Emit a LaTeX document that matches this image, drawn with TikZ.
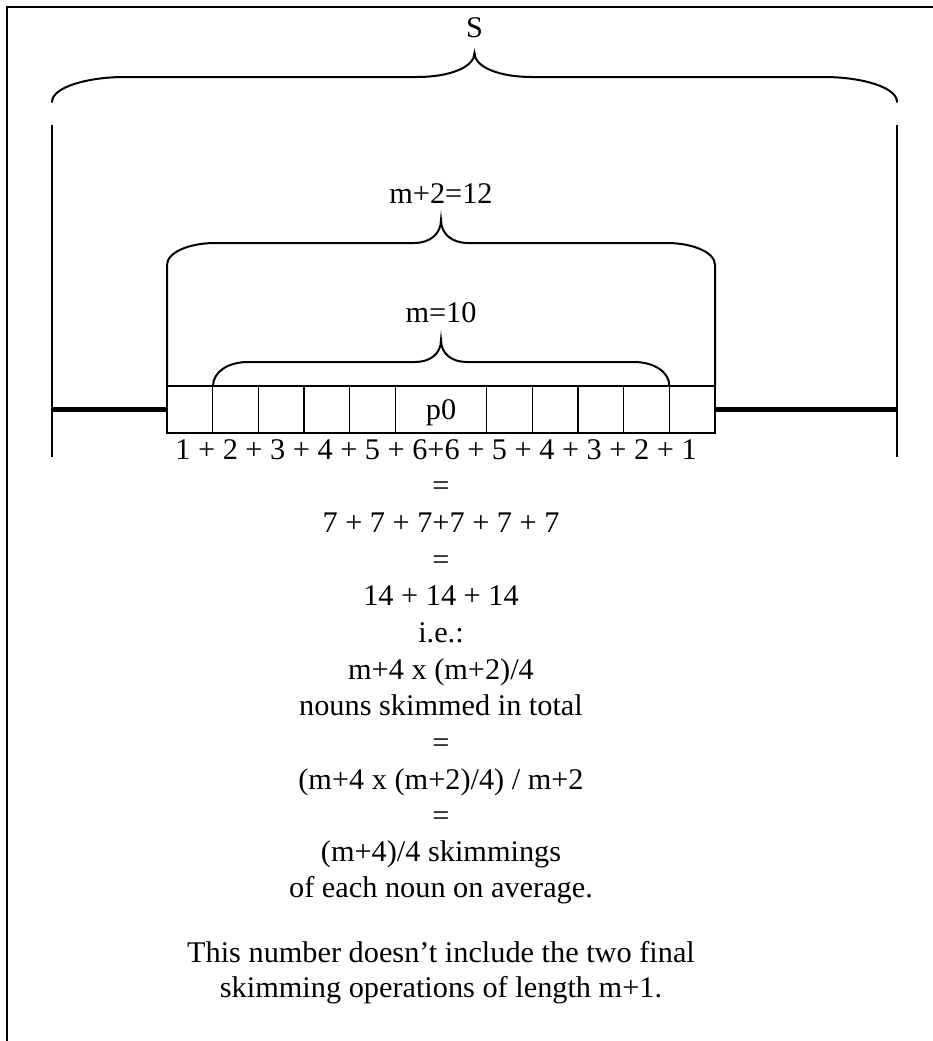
\documentclass[tikz,border=0pt]{standalone}
\usepackage{fontspec}
\setmainfont{Liberation Serif}
\usepackage{graphicx}
\newcommand\hsc[1]{\scalebox{1.01}[1]{#1}}
\begin{document}
\begin{tikzpicture}[x=1pt,y=-1pt,
  txt/.style={inner sep=0pt, anchor=base, font=\fontsize{30}{36}\selectfont},
  bracepath/.style={line width=2pt, line cap=round},
  cellline/.style={line width=1.5pt},
  guide/.style={line width=1.8pt},
  heavy/.style={line width=5pt},
  frameline/.style={line width=2.2pt}]
\useasboundingbox (0,0) rectangle (933,1041);
% frame
\draw[frameline] (7,1045) -- (7,7) -- (940,7);
% S brace
\draw[bracepath] (52,102) .. controls (52,87) and (88,77) .. (125,77) -- (417,77)
  .. controls (450,77) and (474.5,67) .. (474.5,53)
  .. controls (474.5,67) and (499,77) .. (532,77) -- (824,77)
  .. controls (861,77) and (897,87) .. (897,102);
\node[txt] (S) at (474.5,38) {\hsc{S}};
% outer vertical guides
\draw[guide] (52,125) -- (52,457);
\draw[guide] (897,125) -- (897,457);
% thick lines
\draw[heavy] (52,409.5) -- (167,409.5);
\draw[heavy] (715,409.5) -- (897,409.5);
% m+2 brace
\draw[bracepath] (167,386) -- (167,265) .. controls (167,252) and (190,243) .. (215,243) -- (414,243)
  .. controls (430,243) and (441,234) .. (441,220)
  .. controls (441,234) and (452,243) .. (468,243) -- (667,243)
  .. controls (692,243) and (715,252) .. (715,265) -- (715,386);
\node[txt] (m2) at (441,203) {\hsc{m+2=12}};
% m brace
\draw[bracepath] (213,386) .. controls (213,372) and (228,362) .. (248,362) -- (415,362)
  .. controls (430,362) and (441,354) .. (441,340)
  .. controls (441,354) and (452,362) .. (467,362) -- (634,362)
  .. controls (654,362) and (669.4,372) .. (669.4,386);
\node[txt] (m) at (441,322) {\hsc{m=10}};
% cells
\draw[cellline] (167,386) rectangle (715,433);
\foreach \i in {1,2,3,4,5,7,8,9,10,11}{
  \draw[cellline] ({167+\i*45.667},386) -- ({167+\i*45.667},433);
}
\node[txt] (p0) at (441,419) {\hsc{p0}};
% text rows
\node[txt] (r0) at (436,459) {\hsc{1 + 2 + 3 + 4 + 5 + 6+6 + 5 + 4 + 3 + 2 + 1}};
\node[txt] (r1) at (441,495) {\hsc{=}};
\node[txt] (r2) at (441,532) {\hsc{7 + 7 + 7+7 + 7 + 7}};
\node[txt] (r3) at (441,569) {\hsc{=}};
\node[txt] (r4) at (441,605) {\hsc{14 + 14 + 14}};
\node[txt] (r5) at (441,642) {\hsc{i.e.:}};
\node[txt] (r6) at (441,679) {\hsc{m+4 x (m+2)/4}};
\node[txt] (r7) at (441,715) {\hsc{nouns skimmed in total}};
\node[txt] (r8) at (441,752) {\hsc{=}};
\node[txt] (r9) at (441,789) {\hsc{(m+4 x (m+2)/4) / m+2}};
\node[txt] (r10) at (441,825) {\hsc{=}};
\node[txt] (r11) at (441,861) {\hsc{(m+4)/4 skimmings}};
\node[txt] (r12) at (441,897) {\hsc{of each noun on average.}};
\node[txt] (n1) at (441,962) {\hsc{This number doesn't include the two final}};
\node[txt] (n2) at (441,997) {\hsc{skimming operations of length m+1.}};
\end{tikzpicture}
\end{document}
